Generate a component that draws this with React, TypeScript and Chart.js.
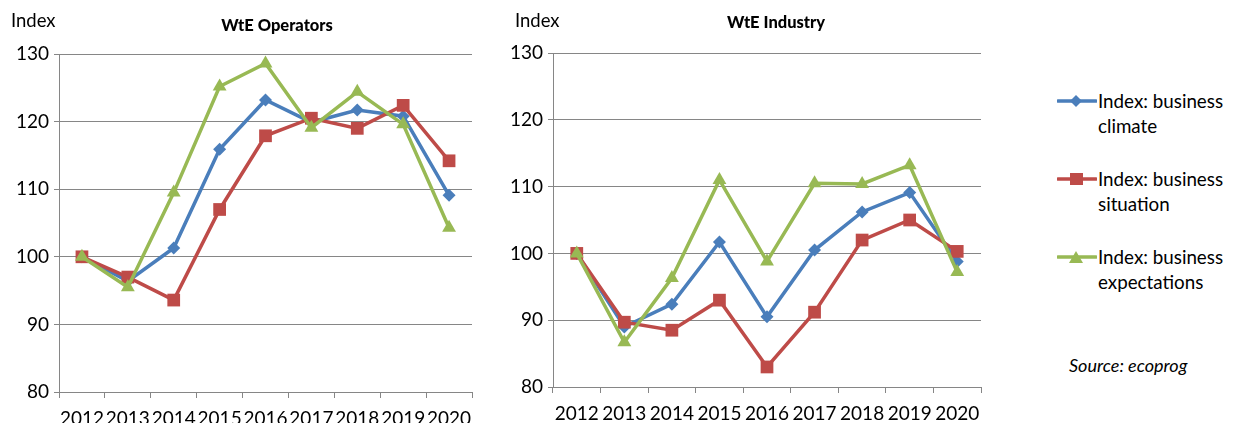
import React, { useEffect, useRef } from "react";
import { Chart, registerables } from "chart.js";

Chart.register(...registerables);

const years = ["2012", "2013", "2014", "2015", "2016", "2017", "2018", "2019", "2020"];

const operatorsClimate = [100, 96.4, 101.3, 115.9, 123.2, 119.9, 121.7, 120.8, 109.1];
const operatorsSituation = [100, 97.0, 93.6, 107.0, 117.9, 120.5, 119.0, 122.4, 114.2];
const operatorsExpectations = [100, 95.5, 109.5, 125.2, 128.6, 119.1, 124.4, 119.6, 104.3];

const industryClimate = [100, 89.0, 92.4, 101.7, 90.5, 100.5, 106.2, 109.1, 98.8];
const industrySituation = [100, 89.7, 88.5, 93.0, 83.0, 91.2, 102.0, 105.0, 100.3];
const industryExpectations = [100, 86.7, 96.3, 111.0, 98.8, 110.5, 110.4, 113.2, 97.2];

const seriesNames = [
  "Index: business climate",
  "Index: business situation",
  "Index: business expectations",
];

const yTicks = [80, 90, 100, 110, 120, 130];

const BLUE = "#4A7EBB";
const RED = "#BE4B48";
const GREEN = "#98B954";
const GRID = "#868686";
const FONT = "Lato, 'Noto Sans', sans-serif";

type Geo = { padTop: number; padRight: number; yWidth: number; xHeight: number };

function LineChart({ climate, situation, expectations, geo }: { climate: number[]; situation: number[]; expectations: number[]; geo: Geo }) {
  const ref = useRef<HTMLCanvasElement | null>(null);
  useEffect(() => {
    if (!ref.current) return;
    const chart = new Chart(ref.current, {
      type: "line",
      data: {
        labels: years,
        datasets: [
          {
            label: seriesNames[0],
            data: climate,
            borderColor: BLUE,
            backgroundColor: BLUE,
            borderWidth: 3.5,
            pointStyle: "rectRot",
            pointRadius: 6.5,
            pointBorderWidth: 0,
            order: 2,
            tension: 0,
          },
          {
            label: seriesNames[1],
            data: situation,
            borderColor: RED,
            backgroundColor: RED,
            borderWidth: 3.5,
            pointStyle: "rect",
            pointRadius: 9,
            pointBorderWidth: 0,
            order: 1,
            tension: 0,
          },
          {
            label: seriesNames[2],
            data: expectations,
            borderColor: GREEN,
            backgroundColor: GREEN,
            borderWidth: 3.5,
            pointStyle: "triangle",
            pointRadius: 8,
            pointBorderWidth: 0,
            order: 0,
            tension: 0,
          },
        ],
      },
      options: {
        animation: false,
        responsive: false,
        maintainAspectRatio: false,
        layout: { padding: { top: geo.padTop, right: geo.padRight, left: 0, bottom: 0 } },
        plugins: { legend: { display: false }, title: { display: false }, tooltip: { enabled: false } },
        scales: {
          x: {
            type: "category",
            offset: true,
            afterFit: (s: any) => {
              s.height = geo.xHeight;
            },
            grid: {
              offset: true,
              drawOnChartArea: false,
              drawTicks: true,
              tickLength: 6,
              color: GRID,
              lineWidth: 1,
            },
            border: { display: false },
            ticks: {
              color: "#000",
              font: { family: FONT, size: 19 },
              padding: 9,
              maxRotation: 0,
              autoSkip: false,
            },
          },
          y: {
            min: 80,
            max: 130,
            afterFit: (s: any) => {
              s.width = geo.yWidth;
            },
            afterBuildTicks: (s: any) => {
              s.ticks = yTicks.map((v) => ({ value: v }));
            },
            grid: { color: GRID, lineWidth: 1, tickLength: 5, drawTicks: true },
            border: { display: true, color: GRID, width: 1 },
            ticks: {
              color: "#000",
              font: { family: FONT, size: 19 },
              padding: 5,
            },
          },
        },
      },
    });
    return () => chart.destroy();
  }, []);
  return <canvas ref={ref} width={490} height={423} style={{ display: "block" }} />;
}

function Marker({ kind, color }: { kind: string; color: string }) {
  let shape: React.ReactNode = null;
  if (kind === "diamond") shape = <polygon points="19,0 25,6 19,12 13,6" fill={color} />;
  if (kind === "square") shape = <rect x={13} y={0} width={13} height={12} fill={color} />;
  if (kind === "triangle") shape = <polygon points="19,0 26,12 12,12" fill={color} />;
  return (
    <svg width={40} height={14} style={{ position: "absolute", left: 0, top: 6 }}>
      <line x1={1} y1={7} x2={39} y2={7} stroke={color} strokeWidth={3.5} strokeLinecap="round" />
      <g transform="translate(0,1)">{shape}</g>
    </svg>
  );
}

export default function App() {
  const legend = [
    { kind: "diamond", color: BLUE, l1: "Index: business", l2: "climate", top: 88 },
    { kind: "square", color: RED, l1: "Index: business", l2: "situation", top: 166 },
    { kind: "triangle", color: GREEN, l1: "Index: business", l2: "expectations", top: 244 },
  ];
  const txt: React.CSSProperties = { position: "absolute", fontFamily: FONT, color: "#000", whiteSpace: "nowrap" };
  return (
    <div style={{ position: "fixed", left: 0, top: 0, width: 1235, height: 423, background: "#fff", overflow: "hidden" }}>
      <div style={{ position: "absolute", left: 0, top: 0 }}>
        <LineChart climate={operatorsClimate} situation={operatorsSituation} expectations={operatorsExpectations}
          geo={{ padTop: 54, padRight: 18, yWidth: 59, xHeight: 31 }} />
      </div>
      <div style={{ position: "absolute", left: 500, top: 0 }}>
        <LineChart climate={industryClimate} situation={industrySituation} expectations={industryExpectations}
          geo={{ padTop: 53, padRight: 6, yWidth: 53, xHeight: 36 }} />
      </div>
      <div style={{ ...txt, left: 11, top: 9, fontSize: 18.5 }}>Index</div>
      <div style={{ ...txt, left: 515, top: 9, fontSize: 18.5 }}>Index</div>
      <div style={{ ...txt, left: 207, top: 15, fontSize: 16.5, fontWeight: 900, width: 140, textAlign: "center" }}>WtE Operators</div>
      <div style={{ ...txt, left: 706, top: 12, fontSize: 16.5, fontWeight: 900, width: 140, textAlign: "center" }}>WtE Industry</div>
      {legend.map((e, i) => (
        <div key={i} style={{ position: "absolute", left: 1057, top: e.top, width: 178, height: 54 }}>
          <Marker kind={e.kind} color={e.color} />
          <div style={{ ...txt, left: 41, top: 0, fontSize: 18.8, lineHeight: "25px" }}>
            {e.l1}
            <br />
            {e.l2}
          </div>
        </div>
      ))}
      <div style={{ ...txt, left: 1069, top: 354, fontSize: 18, fontStyle: "italic" }}>Source: ecoprog</div>
    </div>
  );
}
